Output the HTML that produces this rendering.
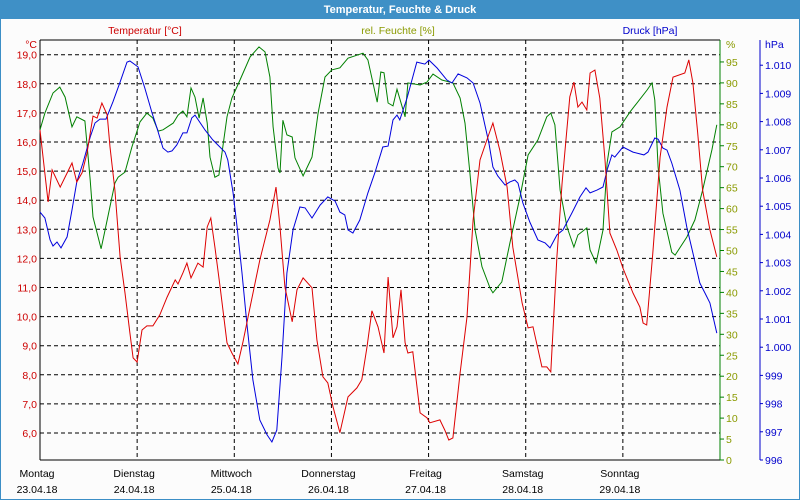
<!DOCTYPE html>
<html><head><meta charset="utf-8"><style>
body{margin:0;background:#fff;}
#wrap{position:relative;width:800px;height:500px;overflow:hidden;font-family:"Liberation Sans",sans-serif;}
svg text{font-family:"Liberation Sans",sans-serif;font-size:10.5px;}
</style></head><body>
<div id="wrap">
<svg id="chart" width="800" height="500" xmlns="http://www.w3.org/2000/svg">
<rect x="0" y="0" width="800" height="500" fill="#fcfcfc" stroke="#3c8ec6" stroke-width="2"/>
<rect x="0" y="0" width="800" height="19" fill="#3f90c6"/>
<text x="400" y="13" text-anchor="middle" fill="#fff" font-weight="bold" style="font-size:11px">Temperatur, Feuchte &amp; Druck</text>
<text x="145" y="34" text-anchor="middle" fill="#cc0000">Temperatur [°C]</text>
<text x="398" y="34" text-anchor="middle" fill="#8a9a00">rel. Feuchte [%]</text>
<text x="650" y="34" text-anchor="middle" fill="#0000cc">Druck [hPa]</text>
<g id="grid"></g>
<g id="axes"></g>
<g id="series"></g>
</svg>
</div>
<script>
const dayNames=["Montag","Dienstag","Mittwoch","Donnerstag","Freitag","Samstag","Sonntag"];
const dayDates=["23.04.18","24.04.18","25.04.18","26.04.18","27.04.18","28.04.18","29.04.18"];
const tempTicks=[6,7,8,9,10,11,12,13,14,15,16,17,18,19];
const humTicks=[0,5,10,15,20,25,30,35,40,45,50,55,60,65,70,75,80,85,90,95];
const presTicks=[996,997,998,999,1000,1001,1002,1003,1004,1005,1006,1007,1008,1009,1010];
const tempHours=[0,2,3,5,7.9,9.1,10.4,11.6,13.1,14.1,15.3,16.6,17.3,18.5,19.8,21,22.2,23,24,25.2,26.4,27.9,29.6,31.4,33.4,34.1,35.3,36.3,37.3,39,40.3,41.3,42.2,43.2,44.5,46.2,47.4,48.9,50.1,51.9,54.3,56.8,58.3,59.3,60.5,62.3,63.5,65,67.2,68.4,69.9,71.1,72.4,74.1,76.1,78.3,79.5,80.8,82,83.5,85,86,87.2,88.2,89.2,90.2,90.9,92.1,93.9,95.6,96.3,98.8,100,101,102,103.8,105.5,107,108.7,110.9,111.9,113.6,115.4,116.8,119.1,120.6,121.8,124,125.2,126.2,127.7,129,130.9,131.9,132.9,133.9,135.1,135.9,137.1,138.3,139.6,140.8,142.5,144,146.5,148.2,149,149.9,151.4,153.2,154.9,156.4,159.3,160.3,161.3,162.5,163.7,165.5,167.2];
const tempValues=[16.41,13.94,15.04,14.45,15.28,14.63,14.94,15.62,16.89,16.82,17.34,16.93,15.83,14.35,12.05,10.81,9.44,8.58,8.44,9.54,9.68,9.68,10.06,10.67,11.26,11.12,11.5,11.84,11.33,11.84,11.7,13.08,13.39,12.39,11.02,9.1,8.75,8.37,9.1,10.33,11.94,13.32,14.45,13.08,11.02,9.82,10.92,11.33,10.99,9.2,7.93,7.72,6.9,6.01,7.24,7.55,7.83,8.96,10.2,9.65,8.75,11.36,9.27,9.65,10.92,9.1,8.75,8.79,6.69,6.52,6.35,6.45,6.1,5.76,5.83,8.06,9.99,13.32,15.38,16.27,16.65,15.72,14.45,12.39,10.47,9.61,9.65,8.27,8.27,8.1,12.05,14.59,17.55,18.06,17.2,17.37,17.1,18.37,18.47,17.51,15.38,12.87,12.29,11.67,10.81,10.33,9.78,9.71,12.18,15.48,17.2,18.23,18.37,18.82,18.03,16.31,14.35,12.98,12.05];
const humHours=[0,1.2,3.2,4.9,6.2,7.9,9.1,11.1,12.4,13.1,15.1,16.6,18.5,19.3,21,22.7,24.7,26.4,27.9,29.2,30.4,32.9,34.1,35.3,36.3,37.3,38.3,39.3,40.3,41.3,42,43.2,44.2,46.2,47.4,49.4,51.9,54.1,55.6,56.8,57.6,58.8,59.3,60,61,62.3,63,65,67.2,68.7,70.4,72.1,74.1,76.1,79.8,81,83.3,84.2,85,86,87.2,88.2,90.2,90.9,93.9,95.6,97.1,99.3,102,103.8,105,106.2,107.5,109.2,111.2,111.9,114.1,116.1,118.6,120.6,123,125.2,126.2,127.2,128.5,130.2,131.9,132.9,135.1,135.9,137.4,139.1,140.1,141.3,143.3,145.8,150,151.2,151.9,152.7,153.9,156.1,156.9,159.8,161.8,163.7,166,167.2];
const humValues=[78.8,82.8,87.6,89,86.6,79.5,81.9,80.9,66.8,58,50.4,57.3,66.1,67.5,68.7,74.7,80.7,82.8,81.6,78.5,78.8,80.4,82.3,83.3,81.9,88.8,86.6,81.6,86.4,80.4,72.3,67.5,68,81.9,86.4,90.7,96.2,98.6,97.4,91.4,79.5,69.7,68.5,81.1,77.6,77.1,72.1,67.8,72.3,82.8,91.4,93.1,93.6,95.9,97.1,95.5,85.4,92.6,92.4,85.2,84.5,88.5,81.9,90,89.5,90.2,92.1,90.7,90,86.4,80.4,68.5,54.9,46.1,41,39.9,42.5,51.8,62.8,72.8,76.4,81.9,82.8,80,64.4,55.6,50.8,53.7,55.4,50.1,47,54.9,70.9,78.3,79.5,83.1,88.3,90,85.9,69.9,58.9,49.6,48.9,53.2,57.3,64.4,74,80];
const presHours=[0,1.2,2.5,3.2,4.2,5.2,6.7,7.9,9.1,10.6,12.4,13.6,14.8,16.3,18,19.8,21.5,22.2,24.2,25.9,27.7,28.9,30.4,31.6,32.6,33.8,35.3,36.3,37.5,38.3,40.8,42.7,45.7,46.4,47.7,48.7,49.9,51.1,52.6,54.3,56.1,57.3,58.5,59.8,61,62.5,64.2,65.5,67.2,69.2,71.1,72.9,74.1,75.3,76.1,77.3,79,81,82.8,84.7,86,87.2,88.2,88.9,90.7,93.1,95.1,96.1,98.1,100.5,101.8,103.3,105.5,107,108.7,110.9,111.9,113.1,114.9,116.1,117.3,118.1,119.3,121,123,124.8,126,127.7,129.2,131.4,133.4,134.9,135.9,137.6,139.1,140.1,141.3,142,144,146.5,149.2,150.2,151.9,152.7,153.9,154.9,156.1,158.1,159.8,161.3,163,164.3,165.5,167.2];
const presValues=[1004.79,1004.58,1003.8,1003.59,1003.73,1003.52,1003.91,1004.87,1005.86,1006.53,1007.45,1007.95,1008.09,1008.09,1008.7,1009.4,1010.11,1010.15,1009.94,1009.19,1008.3,1007.77,1007.06,1006.92,1006.96,1007.17,1007.6,1007.6,1008.13,1008.23,1007.7,1007.35,1006.92,1006.64,1005.47,1004.26,1002.63,1000.86,998.84,997.42,996.89,996.64,997.06,999.65,1002.63,1004.16,1004.97,1004.94,1004.58,1005.04,1005.33,1005.18,1004.79,1004.69,1004.16,1004.05,1004.51,1005.47,1006.21,1007.1,1007.13,1008.06,1008.23,1008.06,1008.84,1010.11,1010.04,1010.18,1009.9,1009.48,1009.37,1009.69,1009.55,1009.37,1008.66,1007.24,1006.39,1006.07,1005.75,1005.86,1005.93,1005.82,1005.11,1004.44,1003.8,1003.7,1003.52,1003.98,1004.16,1004.76,1005.33,1005.65,1005.47,1005.57,1005.68,1006.28,1006.82,1006.74,1007.1,1006.92,1006.82,1006.92,1007.42,1007.38,1007.06,1006.99,1006.53,1005.57,1004.26,1003.34,1002.28,1001.92,1001.57,1000.5];

const NS="http://www.w3.org/2000/svg";
const L=40,R=720,T=40,B=460;
const xH=h=>L+h*(R-L)/168;
const yT=v=>54.7+(19-v)*29.1;
const yH=v=>B-v*4.19;
const yP=v=>B-(v-996)*28.2;
function mk(tag,attrs,parent){const e=document.createElementNS(NS,tag);for(const k in attrs)e.setAttribute(k,attrs[k]);parent.appendChild(e);return e;}
const grid=document.getElementById('grid'),axes=document.getElementById('axes'),ser=document.getElementById('series');
tempTicks.forEach(v=>{
  const y=yT(v);
  const g=mk('line',{x1:L,x2:R,y1:y,y2:y,stroke:'#000','stroke-dasharray':'4,3','stroke-width':1},grid);
  
  
  const t=mk('text',{x:37,y:y+4,'text-anchor':'end',fill:'#cc0000'},axes);
  t.textContent=v.toFixed(1).replace('.',',');
  
  
});
const u=mk('text',{x:37,y:48,'text-anchor':'end',fill:'#cc0000'},axes);u.textContent='°C';


dayNames.forEach((d,i)=>{
  const x=xH(i*24);
  if(i>0){const g=mk('line',{x1:x,x2:x,y1:T,y2:B,stroke:'#000','stroke-dasharray':'4,3'},grid);
    
    }
  const a=mk('text',{x:x-3,y:477,'text-anchor':'middle',fill:'#000'},axes);a.textContent=d;
  
  
  const b=mk('text',{x:x-3,y:493,'text-anchor':'middle',fill:'#000'},axes);b.textContent=dayDates[i];
  
  
});
mk('line',{x1:L,x2:R,y1:T,y2:T,stroke:'#000'},axes);
mk('line',{x1:L,x2:L,y1:T,y2:B,stroke:'#000'},axes);
mk('line',{x1:L,x2:R,y1:B,y2:B,stroke:'#000'},axes);
mk('line',{x1:R,x2:R,y1:T,y2:B,stroke:'#008000'},axes);
humTicks.forEach(v=>{
  const y=yH(v);
  mk('line',{x1:R,x2:R+4,y1:y,y2:y,stroke:'#008000'},axes);
  const t=mk('text',{x:R+6,y:y+4,fill:'#8a9a00'},axes);t.textContent=v;
  
  
});
const hu=mk('text',{x:R+6,y:48,fill:'#8a9a00'},axes);hu.textContent='%';


mk('line',{x1:760,x2:760,y1:T,y2:B,stroke:'#0000cc'},axes);
presTicks.forEach(v=>{
  const y=yP(v);
  mk('line',{x1:760,x2:763,y1:y,y2:y,stroke:'#0000cc'},axes);
  const t=mk('text',{x:765,y:y+4,fill:'#0000cc'},axes);
  t.textContent=v>=1000?('1.'+String(v).slice(1)):String(v);
  
  
});
const pu=mk('text',{x:765,y:48,fill:'#0000cc'},axes);pu.textContent='hPa';


function line(hours,vals,yf,color,name){
  const d=hours.map((h,i)=>(i?'L':'M')+xH(h).toFixed(1)+','+yf(vals[i]).toFixed(1)).join('');
  const p=mk('path',{d:d,fill:'none',stroke:color,'stroke-width':1},ser);
  
  
}
line(humHours,humValues,yH,'#008000','humidity-line');
line(presHours,presValues,yP,'#0000dd','pressure-line');
line(tempHours,tempValues,yT,'#dd0000','temperature-line');
</script>
</body></html>
